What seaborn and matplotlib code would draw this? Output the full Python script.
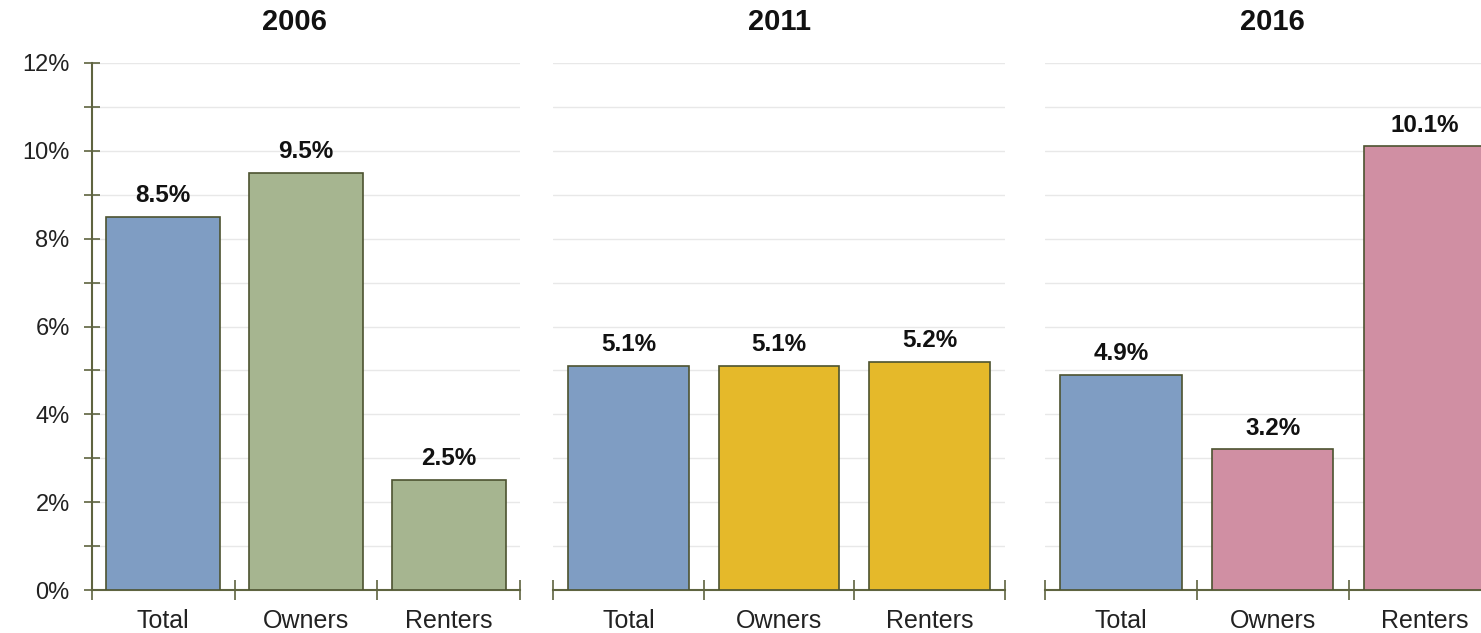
import matplotlib
matplotlib.use("Agg")
import matplotlib.pyplot as plt
import seaborn as sns
import pandas as pd

years = ["2006", "2011", "2016"]
groups = ["Total", "Owners", "Renters"]
rates_2006 = [8.5, 9.5, 2.5]
rates_2011 = [5.1, 5.1, 5.2]
rates_2016 = [4.9, 3.2, 10.1]
panel_colors = [
    ["#7f9dc3", "#a6b590", "#a6b590"],
    ["#7f9dc3", "#e5b92a", "#e5b92a"],
    ["#7f9dc3", "#d08fa3", "#d08fa3"],
]

sns.set_style("white")
plt.rcParams["font.family"] = ["Liberation Sans", "DejaVu Sans"]

axis_color = "#5f6440"
edge_color = "#4d5330"

fig = plt.figure(figsize=(14.81, 6.33), dpi=100)
# axes boxes in figure coords (left, bottom, width, height)
boxes = [
    (0.0621, 0.0679, 0.289, 0.8326),
    (0.3734, 0.0679, 0.3052, 0.8326),
    (0.7056, 0.0679, 0.3075, 0.8326),
]

for i, (year, vals) in enumerate(zip(years, [rates_2006, rates_2011, rates_2016])):
    ax = fig.add_axes(boxes[i])
    df = pd.DataFrame({"group": groups, "rate": vals})
    sns.barplot(data=df, x="group", y="rate", hue="group", palette=panel_colors[i],
                legend=False, width=0.8, saturation=1, edgecolor=edge_color,
                linewidth=1.2, ax=ax, zorder=3)
    for c in ax.containers:
        ax.bar_label(c, fmt="{:.1f}%", padding=7, fontsize=17.5, fontweight="bold",
                     color="#111111")

    ax.set_xlim(-0.5, 2.5)
    ax.set_ylim(0, 12)
    ax.set_xlabel("")
    ax.set_ylabel("")

    # gridlines every 1%
    ax.set_yticks(range(0, 13, 2))
    ax.set_yticks(range(1, 13, 2), minor=True)
    ax.grid(axis="y", which="both", color="#e8e8e8", linewidth=1, zorder=0)
    ax.set_axisbelow(True)

    # category labels, with divider ticks between them
    ax.set_xticks([0, 1, 2])
    ax.set_xticklabels(groups, fontsize=18, color="#222222")
    ax.set_xticks([-0.5, 0.5, 1.5, 2.5], minor=True)
    ax.tick_params(axis="x", which="major", bottom=False, length=0, pad=14)
    ax.tick_params(axis="x", which="minor", bottom=True, direction="inout",
                   length=14, width=1.2, color=axis_color)

    for s in ["top", "right"]:
        ax.spines[s].set_visible(False)
    ax.spines["bottom"].set_color(axis_color)
    ax.spines["bottom"].set_linewidth(1.5)

    if i == 0:
        ax.spines["left"].set_color(axis_color)
        ax.spines["left"].set_linewidth(1.5)
        ax.set_yticklabels([f"{v}%" for v in range(0, 13, 2)], fontsize=17,
                           color="#222222")
        ax.tick_params(axis="y", which="both", left=True, direction="inout",
                       length=12, width=1.2, color=axis_color, pad=10)
    else:
        ax.spines["left"].set_visible(False)
        ax.tick_params(axis="y", which="both", length=0, labelleft=False)

    ax.set_title(year, fontsize=21, fontweight="bold", pad=24, color="#111111")
    if i == 0:
        ax.title.set_x(0.474)

fig.savefig("out.png", dpi=100)
